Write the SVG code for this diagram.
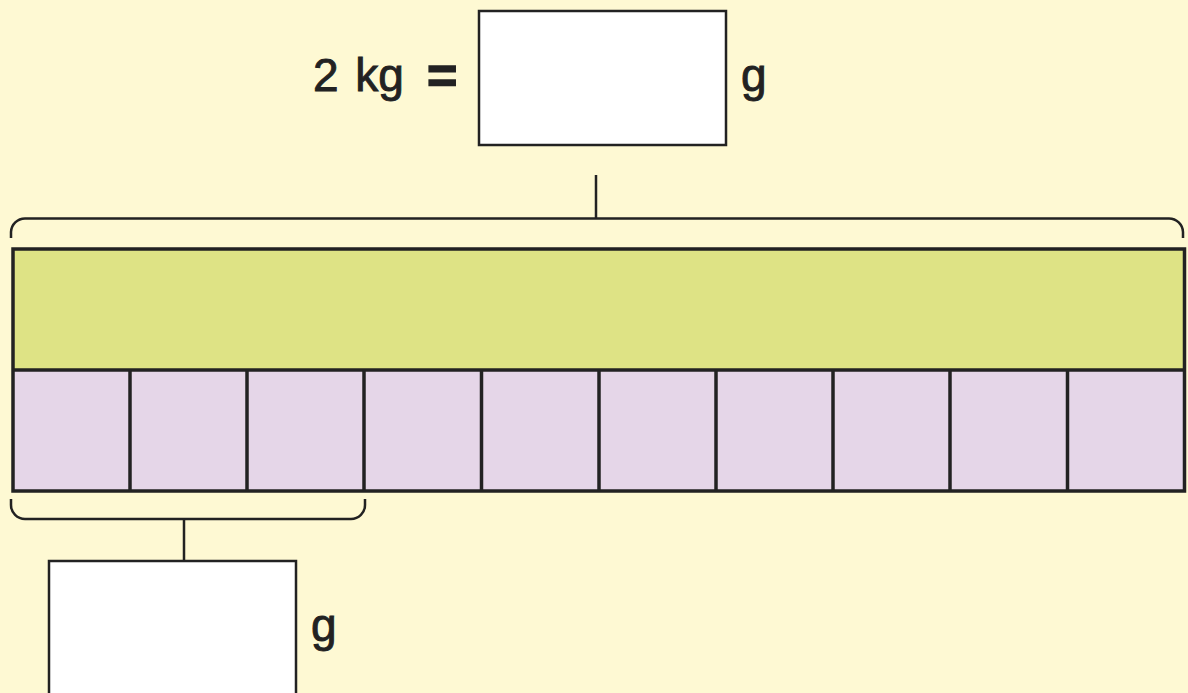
<svg xmlns="http://www.w3.org/2000/svg" width="1188" height="693" viewBox="0 0 1188 693">
  <style>
    .txt { font-family: "Liberation Sans", Arial, sans-serif; font-size: 46px; fill: #222; stroke: #222; stroke-width: 0.9; }
    .ln { stroke: #222; fill: none; }
    .box { fill: #fff; stroke: #222; stroke-width: 2.5; }
  </style>
  <rect x="0" y="0" width="1188" height="693" fill="#FEF9D3"/>

  <g id="equation">
    <text class="txt" x="313" y="91" style="word-spacing:4px">2 kg</text>
    <text class="txt" x="427" y="93" style="font-weight:bold;font-size:52px;stroke-width:1.5">=</text>
    <text class="txt" x="741" y="91">g</text>
  </g>
  <g id="top-box">
    <rect class="box" x="479" y="11" width="247" height="134"/>
  </g>

  <g id="bar">
    <rect x="13" y="249" width="1171.5" height="121" fill="#DEE385"/>
    <rect x="13" y="370" width="1171.5" height="121" fill="#E5D6E8"/>
    <g class="ln" stroke-width="3.5">
      <rect x="13" y="249" width="1171.5" height="242"/>
      <line x1="13" y1="370" x2="1184.5" y2="370"/>
      <line x1="130" y1="370" x2="130" y2="491"/>
      <line x1="247" y1="370" x2="247" y2="491"/>
      <line x1="364" y1="370" x2="364" y2="491"/>
      <line x1="481.5" y1="370" x2="481.5" y2="491"/>
      <line x1="599" y1="370" x2="599" y2="491"/>
      <line x1="716" y1="370" x2="716" y2="491"/>
      <line x1="833" y1="370" x2="833" y2="491"/>
      <line x1="950" y1="370" x2="950" y2="491"/>
      <line x1="1067.5" y1="370" x2="1067.5" y2="491"/>
    </g>
  </g>

  <g id="connectors" class="ln" stroke-width="2.5">
    <path d="M11 238 V232 A14 14 0 0 1 25 218.5 H1169 A14 14 0 0 1 1183 232 V238"/>
    <line x1="596" y1="175" x2="596" y2="218"/>
    <path d="M11 499 V505 A14 14 0 0 0 25 519 H351 A14 14 0 0 0 365 505 V499"/>
    <line x1="184" y1="519" x2="184" y2="561"/>
  </g>

  <g id="bottom-box">
    <rect class="box" x="49" y="561" width="247" height="140"/>
    <text class="txt" x="311" y="641">g</text>
  </g>
</svg>
